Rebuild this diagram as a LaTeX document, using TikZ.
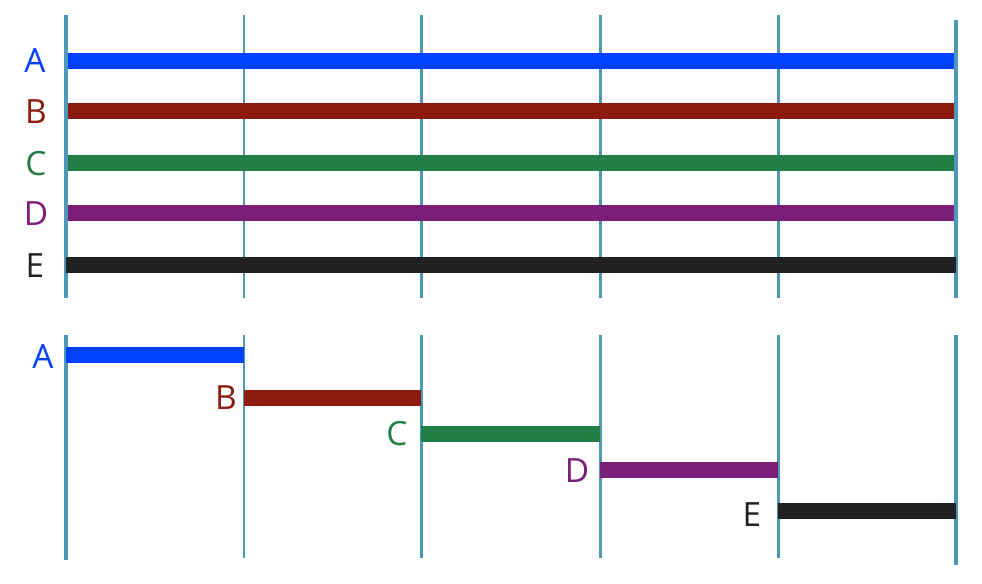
\documentclass[tikz,border=0pt]{standalone}
\usepackage{fontspec}
\setmainfont{Open Sans}
\usetikzlibrary{calc}
\definecolor{gridblue}{RGB}{76,152,182}
\definecolor{barA}{RGB}{0,64,255}
\definecolor{barB}{RGB}{140,26,14}
\definecolor{barC}{RGB}{36,126,72}
\definecolor{barD}{RGB}{122,30,122}
\definecolor{barE}{RGB}{34,34,34}
\tikzset{
	grid/.style={line width=1.7pt, color=gridblue},
	gridedge/.style={line width=2.7pt, color=gridblue},
	bar/.style={line width=9pt},
	lbl/.style={font=\fontsize{19}{19}\selectfont, inner sep=0pt}
}

\begin{document}
\begin{tikzpicture}[x=0.02cm, y=-0.02cm]
		%%%%% START %%%%%
		\useasboundingbox (0, 0) rectangle (982, 583);
		
		% top panel
		\draw[gridedge] (66, 15) -- (66, 298);
		\draw[grid] (244, 15) -- (244, 298);
		\draw[grid] (421, 15) -- (421, 298);
		\draw[grid] (600, 15) -- (600, 298);
		\draw[grid] (778, 15) -- (778, 298);
		\draw[gridedge] (956, 20) -- (956, 298);
		
		\draw[bar, color=barA] (68, 61) -- (954, 61);
		\draw[bar, color=barB] (68, 111) -- (954, 111);
		\draw[bar, color=barC] (68, 163) -- (954, 163);
		\draw[bar, color=barD] (68, 213) -- (954, 213);
		\draw[bar, color=barE] (66, 265) -- (956, 265);
		
		\node[lbl, color=barA] (topA) at (35, 61) {A};
		\node[lbl, color=barB] (topB) at (36, 112) {B};
		\node[lbl, color=barC] (topC) at (36, 164) {C};
		\node[lbl, color=barD] (topD) at (36, 214) {D};
		\node[lbl, color=barE] (topE) at (35, 266) {E};
		
		% bottom panel
		\draw[gridedge] (66, 335) -- (66, 560);
		\draw[grid] (244, 335) -- (244, 558);
		\draw[grid] (421, 335) -- (421, 558);
		\draw[grid] (600, 335) -- (600, 558);
		\draw[grid] (778, 335) -- (778, 558);
		\draw[gridedge] (956, 335) -- (956, 565);
		
		\draw[bar, color=barA] (66, 355) -- (244, 355);
		\draw[bar, color=barB] (244, 398) -- (421, 398);
		\draw[bar, color=barC] (421, 434) -- (600, 434);
		\draw[bar, color=barD] (600, 470) -- (778, 470);
		\draw[bar, color=barE] (778, 511) -- (956, 511);
		
		\node[lbl, color=barA] (botA) at (43, 357) {A};
		\node[lbl, color=barB] (botB) at (226, 398) {B};
		\node[lbl, color=barC] (botC) at (397, 434) {C};
		\node[lbl, color=barD] (botD) at (577, 471) {D};
		\node[lbl, color=barE] (botE) at (752, 515) {E};
		
		%%%%% END %%%%%
	\end{tikzpicture}
\end{document}
